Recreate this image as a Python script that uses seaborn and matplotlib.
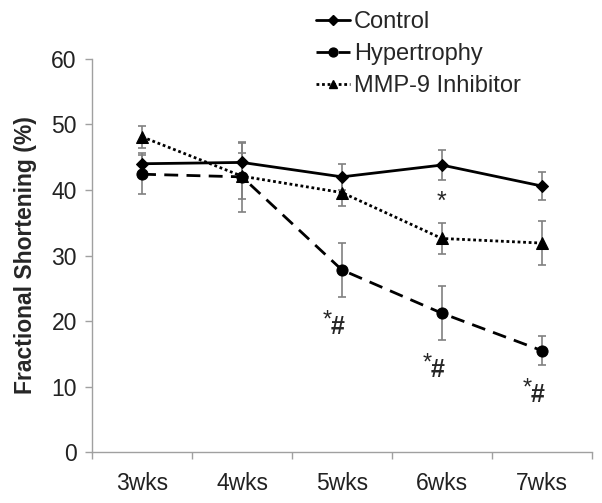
import matplotlib
matplotlib.use("Agg")
import matplotlib.pyplot as plt
import seaborn as sns
import pandas as pd
import numpy as np

weeks = ["3wks", "4wks", "5wks", "6wks", "7wks"]

control = [44.0, 44.2, 42.0, 43.8, 40.6]
control_err = [1.6, 3.0, 2.0, 2.3, 2.1]

hypertrophy = [42.4, 42.0, 27.8, 21.2, 15.5]
hypertrophy_err = [3.0, 5.3, 4.1, 4.1, 2.2]

inhibitor = [48.1, 42.1, 39.6, 32.6, 31.9]
inhibitor_err = [1.7, 3.5, 2.0, 2.3, 3.4]

groups = ["Control", "Hypertrophy", "MMP-9 Inhibitor"]
sig_labels = ["", "", "*#", "*#", "*#"]
star_labels = ["", "", "", "*", ""]

sns.set_theme(style="white")
plt.rcParams['font.family'] = ['Liberation Sans', 'DejaVu Sans']

df = pd.DataFrame({
    "week": weeks * 3,
    "value": control + hypertrophy + inhibitor,
    "err": control_err + hypertrophy_err + inhibitor_err,
    "group": [g for g in groups for _ in weeks],
})
df["pos"] = df["week"].map({w: i for i, w in enumerate(weeks)})

fig = plt.figure(figsize=(6.02, 5.03), dpi=100)
ax = fig.add_axes([0.153, 0.101, 0.830, 0.782])

styles = {
    "Control": dict(marker="D", ms=6, ls="-"),
    "Hypertrophy": dict(marker="o", ms=8, ls=(0, (5, 3))),
    "MMP-9 Inhibitor": dict(marker="^", ms=8, ls=(0, (1, 1))),
}

# grey error bars first, then lines on top
for g in groups:
    d = df[df["group"] == g]
    ax.errorbar(d["pos"], d["value"], yerr=d["err"], fmt="none",
                ecolor="#808080", elinewidth=1.2, capsize=3, capthick=1.2, zorder=2)

handles = []
for g in groups:
    d = df[df["group"] == g]
    st = styles[g]
    sns.lineplot(data=d, x="pos", y="value", ax=ax, color="black", lw=2,
                 marker=st["marker"], markersize=st["ms"], markeredgecolor="black",
                 linestyle=st["ls"], legend=False, zorder=3, errorbar=None)
    h, = ax.plot([], [], color="black", lw=2, marker=st["marker"],
                 markersize=st["ms"] * 0.8, linestyle=st["ls"], label=g)
    handles.append(h)

for i, s in enumerate(sig_labels):
    if s:
        y = hypertrophy[i] - hypertrophy_err[i] - 4.6
        ax.text(i - 0.15, y + 1.0, "*", fontsize=17, ha="center", va="center")
        ax.text(i - 0.04, y, "#", fontsize=18, fontweight="bold", ha="center", va="center")
for i, s in enumerate(star_labels):
    if s:
        ax.text(i, 38.2, s, fontsize=18, ha="center", va="center")

ax.set_xlim(-0.5, 4.5)
ax.set_ylim(0, 60)
ax.set_yticks(range(0, 61, 10))
ax.set_xticks(range(len(weeks)))
ax.set_xticklabels(weeks)
ax.set_xticks(np.arange(-0.5, 4.6, 1), minor=True)
ax.tick_params(axis="x", which="major", length=0, pad=14, labelsize=16.5, labelcolor="#222222")
ax.tick_params(axis="x", which="minor", length=5, width=1, color="#a0a0a0", direction="out", bottom=True)
ax.tick_params(axis="y", length=5, width=1, color="#a0a0a0", direction="out", left=True,
               labelsize=16.5, labelcolor="#222222", pad=6)

ax.set_xlabel("")
ax.set_ylabel("Fractional Shortening (%)", fontsize=16.5, fontweight="bold", labelpad=10)

for side in ["top", "right"]:
    ax.spines[side].set_visible(False)
for side in ["left", "bottom"]:
    ax.spines[side].set_color("#a0a0a0")
    ax.spines[side].set_linewidth(1)

fig.legend(handles=handles, loc="upper left", bbox_to_anchor=(0.51, 0.997),
           frameon=False, fontsize=17, handlelength=1.4, handletextpad=0.2,
           labelspacing=0.42, borderaxespad=0)

fig.savefig("out.png", dpi=100)
